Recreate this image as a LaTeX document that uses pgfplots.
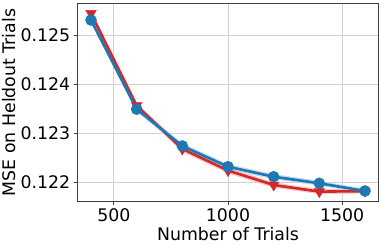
\documentclass[border=0pt]{standalone}
\usepackage{pgfplots}
\pgfplotsset{compat=1.18}
\usepgfplotslibrary{fillbetween}
\usepackage{fontspec}
\setmainfont{DejaVu Sans}
\definecolor{tabred}{RGB}{214,39,40}
\definecolor{tabblue}{RGB}{31,119,180}
\begin{document}
\begin{tikzpicture}
\begin{axis}[
  at={(0,0)}, anchor=south west,
  scale only axis, width=301.4bp, height=198.4bp,
  xmin=340, xmax=1660, ymin=0.121605, ymax=0.125646,
  xtick={500,1000,1500},
  ytick={0.122,0.123,0.124,0.125},
  /pgf/number format/assume math mode=true,
  yticklabel style={/pgf/number format/.cd,fixed,precision=3,zerofill},
  xticklabel style={/pgf/number format/.cd,fixed,1000 sep={}},
  scaled y ticks=false,
  ticklabel style={font=\fontsize{17.4}{20}\selectfont},
  label style={font=\fontsize{17.4}{20}\selectfont},
  xlabel={Number of Trials},
  ylabel={MSE on Heldout Trials},
  grid=major,
  major grid style={draw=black!18, line width=0.8bp},
  tick align=outside, tick pos=left,
  major tick length=3.5bp,
  axis line style={draw=black!75, line width=0.8bp},
  every tick/.style={black!75, line width=0.8bp},
  xlabel style={at={(axis description cs:0.5,0)}, anchor=north, yshift=-22.5bp},
  ylabel style={at={(axis description cs:-0.248,0.5)}, anchor=north, inner sep=0pt},
  clip=false,
]
% red band
\addplot[name path=ru, draw=none, forget plot] coordinates {(400,0.12550)(600,0.12362)(800,0.12274)(1000,0.12230)(1200,0.12200)(1400,0.12186)(1600,0.12187)};
\addplot[name path=rl, draw=none, forget plot] coordinates {(400,0.12538)(600,0.12350)(800,0.12262)(1000,0.12218)(1200,0.12189)(1400,0.12176)(1600,0.12177)};
\addplot[tabred!30, opacity=0.8, forget plot] fill between[of=ru and rl];
% blue band
\addplot[name path=bu, draw=none, forget plot] coordinates {(400,0.12537)(600,0.12355)(800,0.12280)(1000,0.12237)(1200,0.12217)(1400,0.12203)(1600,0.12187)};
\addplot[name path=bl, draw=none, forget plot] coordinates {(400,0.12524)(600,0.12343)(800,0.12268)(1000,0.12226)(1200,0.12206)(1400,0.12193)(1600,0.12177)};
\addplot[tabblue!30, opacity=0.8, forget plot] fill between[of=bu and bl];
% red series
\addplot[tabred, line width=2.6bp, mark=triangle*, mark size=6bp,
  mark options={rotate=180, fill=tabred, draw=tabred, line width=0.5bp}]
  coordinates {(400,0.12544)(600,0.12356)(800,0.12268)(1000,0.12224)(1200,0.121945)(1400,0.12181)(1600,0.12182)};
% blue series
\addplot[tabblue, line width=2.6bp, mark=*, mark size=5.5bp,
  mark options={fill=tabblue, draw=tabblue, line width=0.5bp}]
  coordinates {(400,0.125305)(600,0.12349)(800,0.12274)(1000,0.122318)(1200,0.122114)(1400,0.12198)(1600,0.121823)};
\end{axis}
\pgfresetboundingbox
\useasboundingbox (-77.3bp,-44.3bp) rectangle (304.7bp,201.7bp);
\end{tikzpicture}
\end{document}
